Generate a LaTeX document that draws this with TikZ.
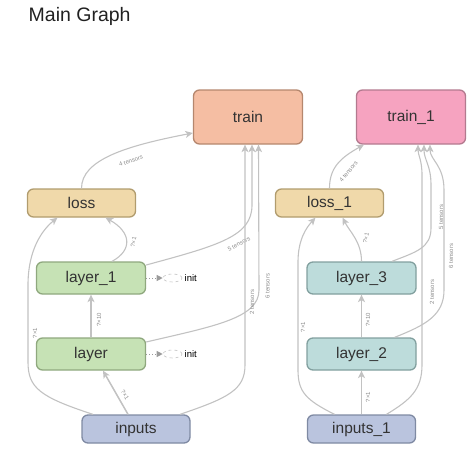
\documentclass[tikz,border=0pt]{standalone}
\usepackage{fontspec}
\setmainfont{Liberation Sans}
\usetikzlibrary{arrows.meta,calc,shapes.geometric}
\definecolor{trainfill}{HTML}{F5BEA3}
\definecolor{trainline}{HTML}{B5876E}
\definecolor{traintfill}{HTML}{F6A3C0}
\definecolor{traintline}{HTML}{B37A8F}
\definecolor{lossfill}{HTML}{F0D9AA}
\definecolor{lossline}{HTML}{B19C6E}
\definecolor{layerfill}{HTML}{C6E2B5}
\definecolor{layerline}{HTML}{8FA87E}
\definecolor{tealfill}{HTML}{BDDCDB}
\definecolor{tealline}{HTML}{82A09F}
\definecolor{inpfill}{HTML}{BAC4DE}
\definecolor{inpline}{HTML}{7F8AA3}
\definecolor{edgec}{HTML}{C2C2C2}
\definecolor{lblc}{HTML}{8C8C8C}
\definecolor{txt}{HTML}{333333}
\begin{document}
\begin{tikzpicture}[x=1pt,y=-1pt,
  box/.style={draw, rounded corners=6pt, line width=1.3pt, inner sep=0pt,
    text=txt, font=\fontsize{15.5}{18}\selectfont},
  bigbox/.style={box, minimum width=109pt, minimum height=54pt},
  midbox/.style={box, minimum width=109pt, minimum height=32pt},
  smallbox/.style={box, minimum width=108pt, minimum height=28pt},
  flow/.style={draw=edgec, line width=1.1pt,
    -{Stealth[length=7.5pt,width=7pt,inset=2pt]}},
  thickflow/.style={flow, line width=1.8pt},
  lbl/.style={font=\fontsize{6}{7}\selectfont, text=lblc, inner sep=0pt},
  initell/.style={ellipse, draw=edgec, dashed, line width=0.6pt,
    minimum width=19pt, minimum height=8pt, inner sep=0pt},
  initlink/.style={draw=edgec!80!black, dotted, line width=1pt,
    -{Triangle[length=6pt,width=6pt]}},
  inittxt/.style={font=\fontsize{9.5}{11}\selectfont, text=black, inner sep=0pt, anchor=west},
]
\useasboundingbox (0,0) rectangle (475,453);

\node[anchor=base west, inner sep=0pt, font=\fontsize{19.5}{22}\selectfont, text=black!87] (title) at (28.5,21.5) {Main Graph};

% left graph
\node[bigbox, fill=trainfill, draw=trainline] (train) at (248,117) {train};
\node[smallbox, fill=lossfill, draw=lossline] (loss) at (81.5,203) {loss};
\node[midbox, fill=layerfill, draw=layerline] (layer_1) at (91,278) {layer\_1};
\node[midbox, fill=layerfill, draw=layerline] (layer) at (91,354) {layer};
\node[smallbox, fill=inpfill, draw=inpline] (inputs) at (136,429) {inputs};

% right graph
\node[bigbox, fill=traintfill, draw=traintline] (train_1) at (411,117) {train\_1};
\node[smallbox, fill=lossfill, draw=lossline] (loss_1) at (329.5,203) {loss\_1};
\node[midbox, fill=tealfill, draw=tealline] (layer_3) at (361.5,278) {layer\_3};
\node[midbox, fill=tealfill, draw=tealline] (layer_2) at (361.5,354) {layer\_2};
\node[smallbox, fill=inpfill, draw=inpline] (inputs_1) at (361.5,429) {inputs\_1};

% init nodes
\node[initell] (init1) at (172.5,278) {};
\node[inittxt] (init1t) at (184.5,278) {init};
\node[initell] (init0) at (172.5,354) {};
\node[inittxt] (init0t) at (184.5,354) {init};
\draw[initlink] (layer_1.east) -- (init1.west);
\draw[initlink] (layer.east) -- (init0.west);

% ---- left edges
\draw[flow] (loss.north) .. controls (81.5,160) and (125,146) .. ($(train.west)+(0,16)$);
\node[lbl, rotate=19] (l1) at (131,161) {4 tensors};

\draw[flow] ($(layer_1.north)+(21,0)$) .. controls (133,250) and (131,232) .. ($(loss.south)+(24,0)$);
\node[lbl, rotate=80] (l2) at (133.5,242) {?×1};

\draw[flow] ($(inputs.north)+(-43,0)$) .. controls (40,397) and (28,388) .. (28,362)
   -- (28,285) .. controls (28,250) and (42,230) .. ($(loss.south)+(-24,0)$);
\node[lbl, rotate=90] (l3) at (35,333) {?×1};

\draw[thickflow] (layer.north) -- (layer_1.south);
\node[lbl, rotate=90] (l4) at (99,320) {?×10};

\draw[flow, line width=1.5pt] ($(inputs.north)+(-8,0)$) -- ($(layer.south)+(12,0)$);
\node[lbl, rotate=-60] (l5) at (125,395) {?×1};

\draw[flow] ($(layer_1.east)+(0,-13)$) .. controls (220,245) and (252,236) .. (252,205)
   -- ($(train.south)+(4,0)$);
\node[lbl, rotate=28] (l6) at (239,244) {5 tensors};

\draw[flow] ($(layer.east)+(0,-12)$) .. controls (215,326) and (259,318) .. (259,290)
   -- ($(train.south)+(10.5,0)$);
\node[lbl, rotate=90] (l7) at (267.5,286) {6 tensors};

\draw[flow] ($(inputs.north)+(44,0)$) .. controls (228,398) and (245,390) .. (245,365)
   -- ($(train.south)+(-3,0)$);
\node[lbl, rotate=90] (l8) at (252,302) {2 tensors};

% ---- right edges
\draw[flow] (loss_1.north) .. controls (329.5,168) and (340,158) .. ($(train_1.south)+(-47,0)$);
\node[lbl, rotate=50] (r1) at (348.5,171.5) {4 tensors};

\draw[flow] (layer_3.north) .. controls (361.5,242) and (350,232) .. ($(loss_1.south)+(13,0)$);
\node[lbl, rotate=78] (r2) at (366,238) {?×1};

\draw[flow] ($(inputs_1.north)+(-27,0)$) .. controls (306,400) and (298,392) .. (298,370)
   -- (298,262) .. controls (298,240) and (306,228) .. ($(loss_1.south)+(-14,0)$);
\node[lbl, rotate=90] (r3) at (303,327) {?×1};

\draw[thickflow] (layer_2.north) -- (layer_3.south);
\node[lbl, rotate=90] (r4) at (368,320) {?×10};

\draw[thickflow] (inputs_1.north) -- (layer_2.south);
\node[lbl, rotate=90] (r5) at (368,397) {?×1};

\draw[flow] ($(layer_3.north)+(30.5,0)$) .. controls (416,252) and (431,248) .. (431,228)
   -- (431,185) .. controls (431,165) and (424,160) .. ($(train_1.south)+(13,0)$);
\node[lbl, rotate=90] (r6) at (441,217) {5 tensors};

\draw[flow] ($(layer_2.north)+(33,0)$) .. controls (426,325) and (444,315) .. (444,290)
   -- (444,190) .. controls (444,165) and (430,160) .. ($(train_1.south)+(19,0)$);
\node[lbl, rotate=90] (r7) at (451,256) {6 tensors};

\draw[flow] ($(inputs_1.north)+(25,0)$) .. controls (410,400) and (422,390) .. (422,365)
   -- (422,175) .. controls (422,160) and (418,155) .. ($(train_1.south)+(7,0)$);
\node[lbl, rotate=90] (r8) at (432,292) {2 tensors};
\end{tikzpicture}
\end{document}
